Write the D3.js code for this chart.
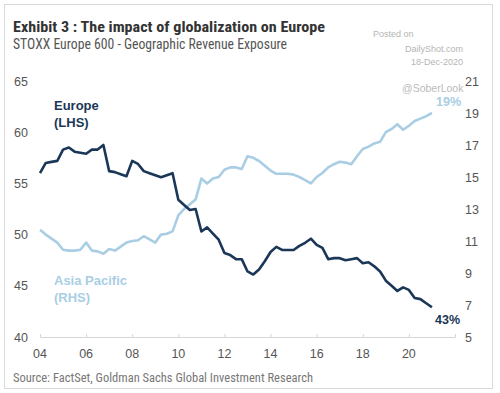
<!DOCTYPE html>
<meta charset="utf-8">
<html>
<head>
<script src="https://d3js.org/d3.v7.min.js"></script>
<style>
body { margin: 0; background: #fff; }
svg { font-family: "Liberation Sans", Arial, sans-serif; }
.narrow { font-family: "Liberation Sans Narrow", "Arial Narrow", "Roboto Condensed", sans-serif; }
</style>
</head>
<body>
<div id="chart"></div>
<script>
// quarterly points, 2004 Q1 .. 2021 Q1
var startYear = 2004;
var europe = [56.0, 57.0, 57.1, 57.2, 58.3, 58.5, 58.1, 58.0, 57.9, 58.3, 58.3, 58.75,
  56.2, 56.1, 55.9, 55.7, 57.2, 56.9, 56.2, 56.0, 55.8, 55.6, 55.8, 56.0,
  53.4, 52.9, 52.4, 52.5, 50.3, 50.7, 50.1, 49.5, 48.2, 48.0, 47.6, 47.6,
  46.4, 46.1, 46.6, 47.4, 48.3, 48.8, 48.5, 48.5, 48.5, 48.9, 49.2, 49.6,
  49.0, 48.7, 47.6, 47.7, 47.7, 47.5, 47.6, 47.7, 47.2, 47.3, 46.9, 46.4,
  45.5, 45.0, 44.5, 44.85, 44.6, 43.8, 43.7, 43.3, 42.9];
var asiaPacific = [11.7, 11.4, 11.15, 10.9, 10.45, 10.4, 10.4, 10.45, 10.9, 10.4, 10.35, 10.2,
  10.5, 10.4, 10.65, 10.9, 11.0, 11.05, 11.3, 11.1, 10.9, 11.4, 11.45, 11.6,
  12.6, 13.0, 13.3, 13.6, 14.9, 14.6, 14.9, 15.0, 15.45, 15.6, 15.6, 15.5,
  16.3, 16.2, 16.0, 15.7, 15.4, 15.2, 15.2, 15.2, 15.15, 15.0, 14.8, 14.6,
  15.0, 15.25, 15.6, 15.8, 15.95, 15.9, 15.8, 16.3, 16.75, 16.9, 17.1, 17.2,
  17.8, 18.0, 18.3, 17.95, 18.2, 18.5, 18.65, 18.8, 19.0];
var xTicks = [2004, 2006, 2008, 2010, 2012, 2014, 2016, 2018, 2020, 2022];
var leftTicks = [40, 45, 50, 55, 60, 65];
var rightTicks = [5, 7, 9, 11, 13, 15, 17, 19, 21];

var W = 500, H = 393;
var svg = d3.select("#chart").append("svg")
    .attr("width", W).attr("height", H);

// frame
svg.append("rect")
    .attr("x", 4.5).attr("y", 4.5)
    .attr("width", 488).attr("height", 384)
    .attr("fill", "none").attr("stroke", "#d9d9d9");

var x = d3.scaleLinear().domain([2004, 2022]).range([40, 455]);
var yL = d3.scaleLinear().domain([40, 65]).range([337, 81]);
var yR = d3.scaleLinear().domain([5, 21]).range([337, 81]);

// x axis
var xAxis = svg.append("g")
    .attr("transform", "translate(0,337)")
    .call(d3.axisTop(x).tickValues(xTicks).tickSize(3).tickFormat(""));
xAxis.select(".domain").attr("stroke", "#d6d6d6");
xAxis.selectAll(".tick line").attr("stroke", "#d6d6d6");

svg.append("g").selectAll("text")
    .data(xTicks.slice(0, -1))
    .enter().append("text")
    .attr("x", function (d) { return x(d); })
    .attr("y", 358)
    .attr("text-anchor", "middle")
    .attr("font-size", 12.5)
    .attr("fill", "#555")
    .text(function (d) { return String(d).slice(2); });

svg.append("g").selectAll("text")
    .data(leftTicks)
    .enter().append("text")
    .attr("x", 28)
    .attr("y", function (d) { return yL(d) + 4.5; })
    .attr("text-anchor", "end")
    .attr("font-size", 12.5)
    .attr("fill", "#555")
    .text(function (d) { return d; });

svg.append("g").selectAll("text")
    .data(rightTicks)
    .enter().append("text")
    .attr("x", 465)
    .attr("y", function (d) { return yR(d) + 4.5; })
    .attr("font-size", 12.5)
    .attr("fill", "#555")
    .text(function (d) { return d; });

function t(i) { return startYear + i * 0.25; }

var lineL = d3.line().x(function (d, i) { return x(t(i)); }).y(function (d) { return yL(d); });
var lineR = d3.line().x(function (d, i) { return x(t(i)); }).y(function (d) { return yR(d); });

svg.append("path").datum(asiaPacific)
    .attr("d", lineR)
    .attr("fill", "none")
    .attr("stroke", "#a9cee4")
    .attr("stroke-width", 2.6)
    .attr("stroke-linejoin", "round");

svg.append("path").datum(europe)
    .attr("d", lineL)
    .attr("fill", "none")
    .attr("stroke", "#1b3757")
    .attr("stroke-width", 2.6)
    .attr("stroke-linejoin", "round");

// series labels
var navy = "#1b3757", light = "#a9cee4";
function label(txt, xx, yy, col, size) {
  svg.append("text").attr("x", xx).attr("y", yy)
      .attr("font-size", size || 13).attr("font-weight", "bold")
      .attr("fill", col).text(txt);
}
label("Europe", 54, 110, navy);
label("(LHS)", 54, 127, navy);
label("Asia Pacific", 54, 285, light);
label("(RHS)", 54, 302, light);
label("19%", 436, 106, light, 12.5);
label("43%", 435, 324, navy, 12.5);

// titles
svg.append("text").attr("class", "narrow")
    .attr("x", 13).attr("y", 32)
    .attr("font-size", 15.5).attr("font-weight", "bold")
    .attr("fill", "#333")
    .attr("textLength", 312).attr("lengthAdjust", "spacingAndGlyphs")
    .text("Exhibit 3 : The impact of globalization on Europe");
svg.append("text").attr("class", "narrow")
    .attr("x", 13).attr("y", 49)
    .attr("font-size", 14)
    .attr("fill", "#555")
    .attr("textLength", 274).attr("lengthAdjust", "spacingAndGlyphs")
    .text("STOXX Europe 600 - Geographic Revenue Exposure");
svg.append("text").attr("class", "narrow")
    .attr("x", 13).attr("y", 382)
    .attr("font-size", 13.5)
    .attr("fill", "#777")
    .attr("textLength", 300).attr("lengthAdjust", "spacingAndGlyphs")
    .text("Source: FactSet, Goldman Sachs Global Investment Research");

// posted stamp
var stamp = svg.append("g").attr("fill", "#b5b5b5").attr("font-size", 9);
stamp.append("text").attr("x", 373).attr("y", 37).text("Posted on");
stamp.append("text").attr("x", 463).attr("y", 52).attr("text-anchor", "end").text("DailyShot.com");
stamp.append("text").attr("x", 463).attr("y", 65).attr("text-anchor", "end").text("18-Dec-2020");
svg.append("text").attr("x", 402).attr("y", 92)
    .attr("font-size", 10.5).attr("fill", "#bbb").text("@SoberLook");
</script>
</body>
</html>
